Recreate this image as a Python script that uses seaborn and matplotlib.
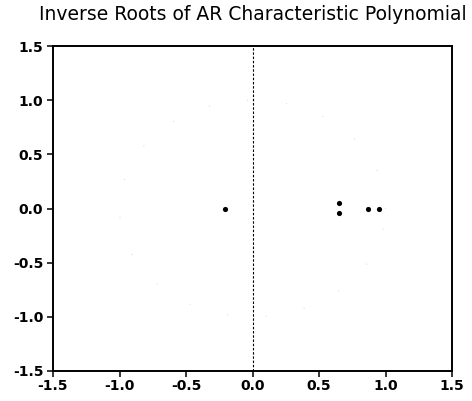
import numpy as np
import pandas as pd
import matplotlib
matplotlib.use("Agg")
import matplotlib.pyplot as plt
import seaborn as sns

root_real = [-0.21, 0.65, 0.65, 0.87, 0.95]
root_imag = [0.0, 0.055, -0.045, 0.0, 0.0]
tick_values = [-1.5, -1.0, -0.5, 0.0, 0.5, 1.0, 1.5]
tick_labels = ["-1.5", "-1.0", "-0.5", "0.0", "0.5", "1.0", "1.5"]
title_text = "Inverse Roots of AR Characteristic Polynomial"

sns.set_theme(style="white")
plt.rcParams["font.family"] = ["DejaVu Sans"]
plt.rcParams["axes.unicode_minus"] = False

fig = plt.figure(figsize=(4.72, 4.01), dpi=100)
ax = fig.add_axes([53 / 472, 1 - 371 / 401, 399 / 472, 325 / 401])

df = pd.DataFrame({"re": root_real, "im": root_imag})

# faint unit circle
theta = np.linspace(0, 2 * np.pi, 400)
ax.plot(np.cos(theta), np.sin(theta), color="#aaaaaa", lw=0.5,
        linestyle=(0, (1, 55)))
# zero line
ax.axvline(0, color="black", lw=0.8, linestyle=(0, (2.2, 1.6)))

sns.scatterplot(data=df, x="re", y="im", ax=ax, color="black", s=14,
                linewidth=0, legend=False, zorder=5)

ax.set_xlim(-1.5, 1.5)
ax.set_ylim(-1.5, 1.5)
ax.set_xticks(tick_values)
ax.set_xticklabels(tick_labels)
ax.set_yticks(tick_values)
ax.set_yticklabels(tick_labels)
ax.set_xlabel("")
ax.set_ylabel("")
for s in ax.spines.values():
    s.set_color("black")
    s.set_linewidth(1.4)
ax.tick_params(axis="both", which="major", direction="out", length=4,
               width=1.1, color="black", labelsize=10, labelcolor="black",
               bottom=True, left=True)
ax.tick_params(axis="x", pad=1.5)
ax.tick_params(axis="y", pad=3)
for lab in ax.get_xticklabels() + ax.get_yticklabels():
    lab.set_fontweight("bold")
ax.set_title(title_text, fontsize=13.5, color="black", pad=19)

fig.savefig("out.png", dpi=100)
